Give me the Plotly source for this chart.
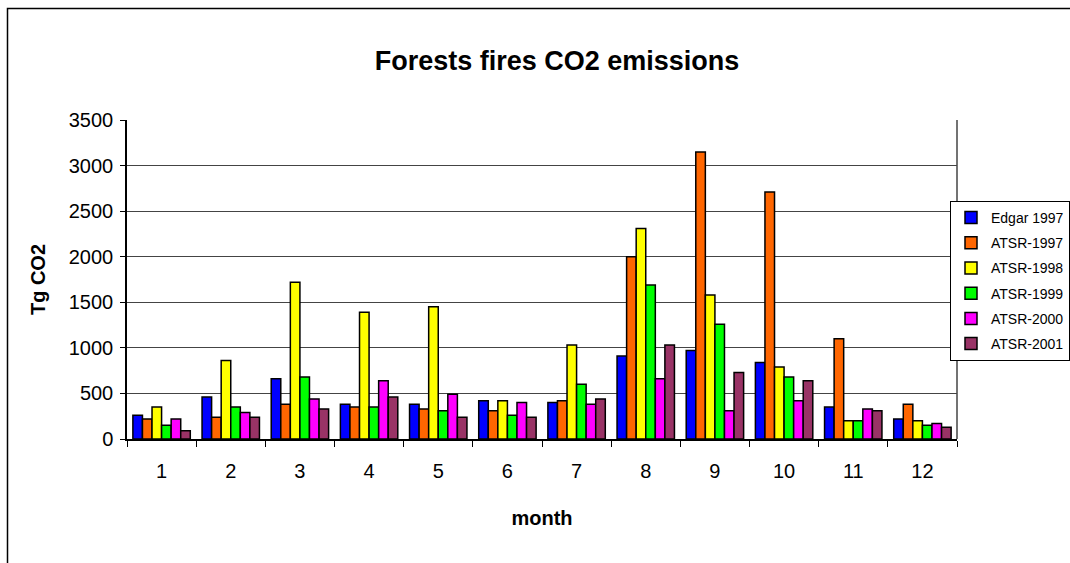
import plotly.graph_objects as go

# Monthly CO2 emissions from forest fires (Tg CO2)
months = ["1", "2", "3", "4", "5", "6", "7", "8", "9", "10", "11", "12"]

edgar_1997 = [260, 460, 660, 380, 380, 420, 400, 910, 970, 840, 350, 220]
atsr_1997 = [220, 240, 380, 350, 330, 310, 420, 2000, 3150, 2710, 1100, 380]
atsr_1998 = [350, 860, 1720, 1390, 1450, 420, 1030, 2310, 1580, 790, 200, 200]
atsr_1999 = [150, 350, 680, 350, 310, 260, 600, 1690, 1260, 680, 200, 150]
atsr_2000 = [220, 290, 440, 640, 490, 400, 380, 660, 310, 420, 330, 170]
atsr_2001 = [90, 240, 330, 460, 240, 240, 440, 1030, 730, 640, 310, 130]

series_names = ["Edgar 1997", "ATSR-1997", "ATSR-1998", "ATSR-1999", "ATSR-2000", "ATSR-2001"]
series_values = [edgar_1997, atsr_1997, atsr_1998, atsr_1999, atsr_2000, atsr_2001]
series_colors = ["#0000FF", "#FF6600", "#FFFF00", "#00FF00", "#FF00FF", "#993366"]

y_ticks = [0, 500, 1000, 1500, 2000, 2500, 3000, 3500]

FONT = "Arial, Liberation Sans, sans-serif"

fig = go.Figure()
for name, vals, col in zip(series_names, series_values, series_colors):
    fig.add_trace(go.Bar(
        x=months, y=vals, name=name, legendgroup=name,
        marker=dict(color=col, line=dict(color="black", width=1.5)),
    ))

W, H = 1070, 563
L, R, T, B = 127, 113, 120, 124
pw, ph = W - L - R, H - T - B


def px_x(p):
    return (p - L) / pw


def px_y(p):
    return (H - B - p) / ph


fig.update_layout(
    width=W, height=H,
    margin=dict(l=L, r=R, t=T, b=B, autoexpand=False),
    paper_bgcolor="white", plot_bgcolor="white",
    barmode="group", bargap=0.17, bargroupgap=0,
    font=dict(family=FONT, color="black"),
    title=dict(
        text="<b>Forests fires CO2 emissions</b>",
        font=dict(size=27, family=FONT, color="black"),
        x=px_x(557), xref="paper", xanchor="center",
        y=1 - 61 / H, yref="container", yanchor="middle",
    ),
    legend=dict(
        x=px_x(950), y=px_y(201), xanchor="left", yanchor="top",
        bordercolor="black", borderwidth=1, bgcolor="white",
        font=dict(size=14, family=FONT, color="black"),
        traceorder="grouped", tracegroupgap=4,
    ),
    xaxis=dict(
        type="category",
        tickson="boundaries", ticks="outside", ticklen=6, tickcolor="black",
        showline=True, linecolor="black", linewidth=1.5,
        showgrid=False,
        tickfont=dict(size=20, family=FONT, color="black"),
        ticklabelstandoff=13,
        title=dict(text="<b>month</b>", font=dict(size=20, family=FONT, color="black"),
                   standoff=30),
    ),
    yaxis=dict(
        range=[0, 3500], tickvals=y_ticks,
        ticks="outside", ticklen=5, tickcolor="black",
        showline=True, linecolor="black", linewidth=1.5,
        showgrid=True, gridcolor="#444444", gridwidth=1,
        zeroline=False,
        tickfont=dict(size=20, family=FONT, color="black"),
        ticklabelstandoff=3,
        title=dict(text="<b>Tg CO2</b>", font=dict(size=20, family=FONT, color="black"),
                   standoff=18),
    ),
)

# right edge of the plotting area
fig.add_shape(type="line", xref="paper", yref="paper", x0=1, x1=1, y0=0, y1=1,
              line=dict(color="#444444", width=1.5), layer="above")
# outer frame of the chart
fig.add_shape(type="rect", xref="paper", yref="paper",
              x0=px_x(7.5), x1=px_x(W + 20), y0=px_y(H + 20), y1=px_y(8.5),
              line=dict(color="black", width=1.5), fillcolor="rgba(0,0,0,0)",
              layer="below")

fig.write_html("out.html")
